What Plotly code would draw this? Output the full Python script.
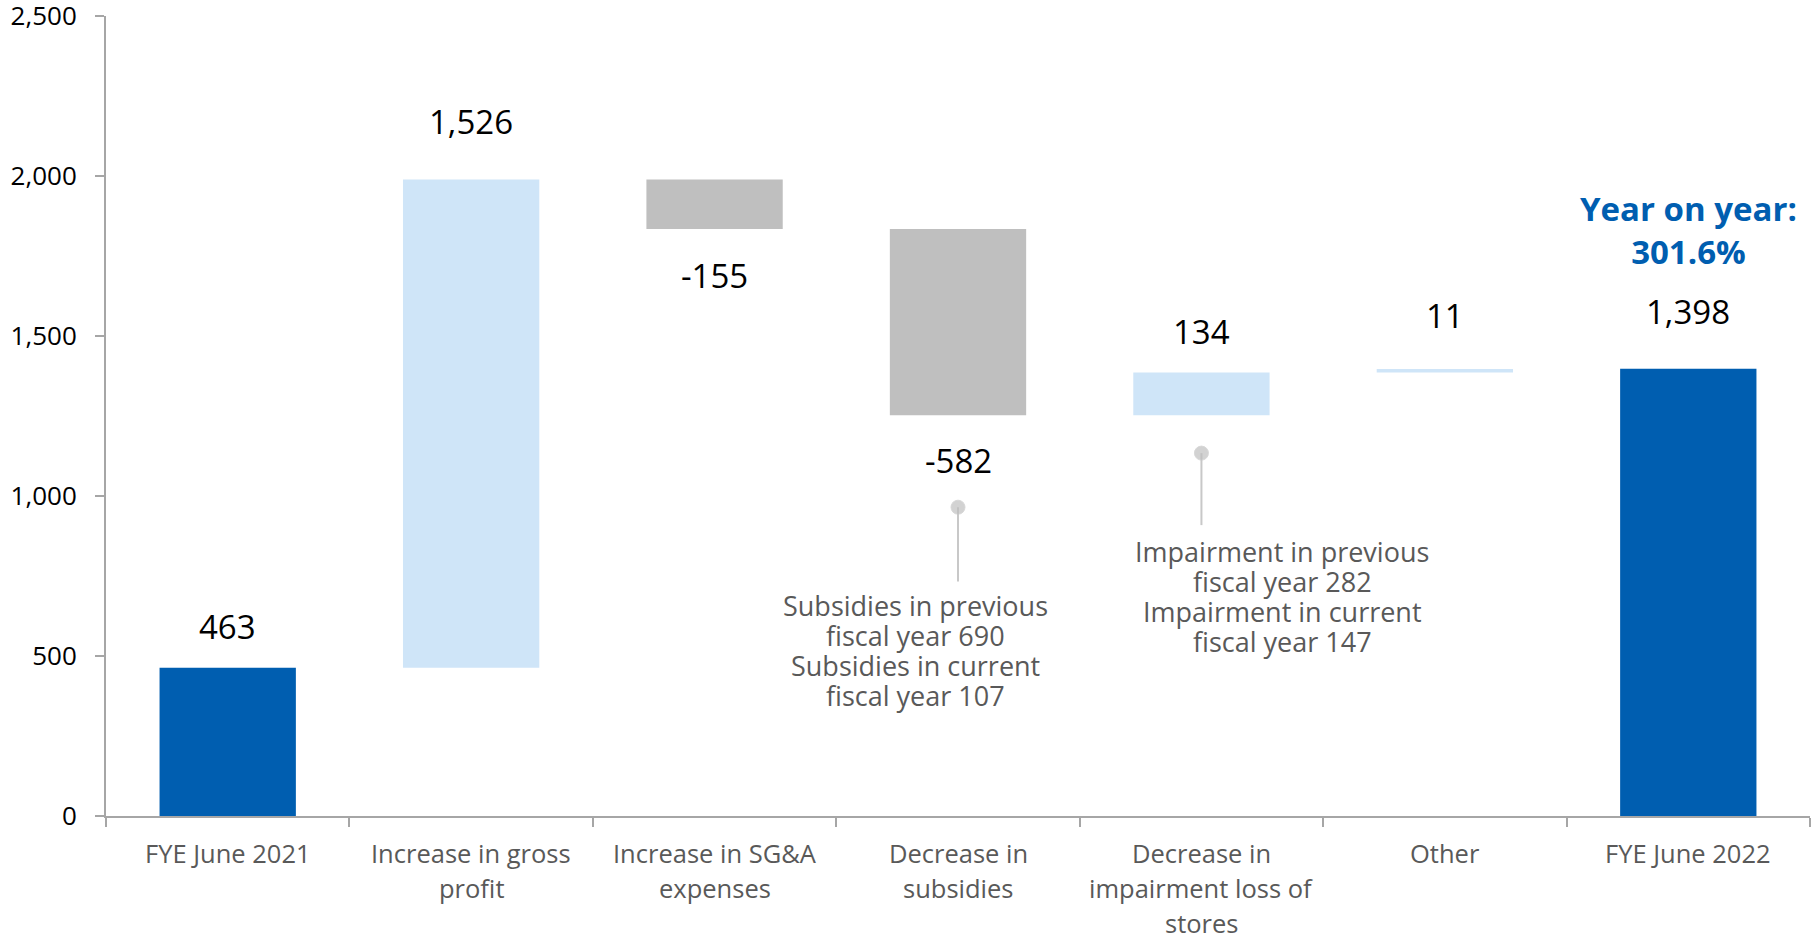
import plotly.graph_objects as go

# ---- data ----
categories = [
    "FYE June 2021",
    "Increase in gross<br>profit",
    "Increase in SG&A<br>expenses",
    "Decrease in<br>subsidies",
    "Decrease in<br>impairment loss of<br>stores",
    "Other",
    "FYE June 2022",
]
values = [463, 1526, -155, -582, 134, 11, 1398]
measures = ["absolute", "relative", "relative", "relative", "relative", "relative", "absolute"]
value_labels = ["463", "1,526", "-155", "-582", "134", "11", "1,398"]
yoy_label = "Year on year:<br>301.6%"
y_tick_values = [0, 500, 1000, 1500, 2000, 2500]
y_tick_labels = ["0", "500", "1,000", "1,500", "2,000", "2,500"]
callout_texts = [
    ["Subsidies in previous", "fiscal year 690", "Subsidies in current", "fiscal year 107"],
    ["Impairment in previous", "fiscal year 282", "Impairment in current", "fiscal year 147"],
]
callout_categories = [categories[3], categories[4]]
callout_dot_values = [965, 1134]
callout_line_end_values = [733, 909]
callout_text_values = [517, 686]

# ---- styles ----
DARK_BLUE = "#005EB0"
LIGHT_BLUE = "#CFE5F8"
GREY = "#BFBFBF"
TEXT_GREY = "#595959"
AXIS_GREY = "#A6A6A6"
FONT = "Open Sans"
label_shift_px = [41, 58, -46, -45, 41, 53, 57]
callout_xshift_px = [-43, 81]
CALLOUT_LINE_PX = 30
XLABEL_LINE_PX = 35
XLABEL_FIRST_PX = 37

fig = go.Figure()
fig.add_trace(go.Waterfall(
    x=categories, y=values, measure=measures,
    increasing=dict(marker=dict(color=LIGHT_BLUE)),
    decreasing=dict(marker=dict(color=GREY)),
    totals=dict(marker=dict(color=DARK_BLUE)),
    connector=dict(visible=False),
    hoverinfo="skip", showlegend=False,
))

# bar ends for labels
ends = []
running = 0
for m, v in zip(measures, values):
    running = v if m == "absolute" else running + v
    ends.append(running)

for cat, end, lab, sh in zip(categories, ends, value_labels, label_shift_px):
    fig.add_annotation(x=cat, y=end, text=lab, showarrow=False, yshift=sh,
                       yanchor="middle", font=dict(family=FONT, size=33, color="#000000"))

fig.add_annotation(x=categories[-1], y=ends[-1], text=yoy_label, showarrow=False,
                   yshift=139, yanchor="middle",
                   font=dict(family=FONT, size=33, color=DARK_BLUE, weight="bold"))

# callouts
for cat, dot, lend, lines, tv, xs in zip(callout_categories, callout_dot_values,
                                         callout_line_end_values, callout_texts,
                                         callout_text_values, callout_xshift_px):
    fig.add_trace(go.Scatter(x=[cat, cat], y=[dot, lend], mode="lines+markers",
                             line=dict(color="#C8C8C8", width=2),
                             marker=dict(size=[14, 0], color=GREY),
                             hoverinfo="skip", showlegend=False))
    n = len(lines)
    for i, line in enumerate(lines):
        fig.add_annotation(x=cat, y=tv, text=line, showarrow=False, xshift=xs,
                           yshift=((n - 1) / 2 - i) * CALLOUT_LINE_PX,
                           yanchor="middle", align="center", borderpad=0,
                           font=dict(family=FONT, size=27, color=TEXT_GREY))

# category labels under the axis
for cat in categories:
    for i, line in enumerate(cat.split("<br>")):
        fig.add_annotation(x=cat, y=0, text=line, showarrow=False,
                           yshift=-(XLABEL_FIRST_PX + i * XLABEL_LINE_PX),
                           yanchor="middle", borderpad=0,
                           font=dict(family=FONT, size=25.5, color=TEXT_GREY))

fig.update_layout(
    width=1811, height=933,
    margin=dict(l=106, r=1, t=16, b=117, autoexpand=False),
    paper_bgcolor="white", plot_bgcolor="white",
    waterfallgap=0.44,
    font=dict(family=FONT),
    showlegend=False,
)
fig.update_xaxes(
    type="category", tickson="boundaries", ticks="outside", ticklen=9,
    tickcolor=AXIS_GREY, tickwidth=2,
    showline=True, linecolor=AXIS_GREY, linewidth=2,
    showgrid=False, zeroline=False, showticklabels=False, automargin=False,
)
fig.update_yaxes(
    range=[0, 2500], tickvals=y_tick_values, ticktext=y_tick_labels,
    ticks="outside", ticklen=9, tickcolor=AXIS_GREY, tickwidth=2,
    showline=True, linecolor=AXIS_GREY, linewidth=2,
    showgrid=False, zeroline=False, automargin=False,
    tickfont=dict(family=FONT, size=26, color="#000000"),
    ticklabelstandoff=13, ticklabeloverflow="allow",
)

fig.write_html("out.html", config={"displayModeBar": False},
               post_script="document.body.style.margin='0';")
